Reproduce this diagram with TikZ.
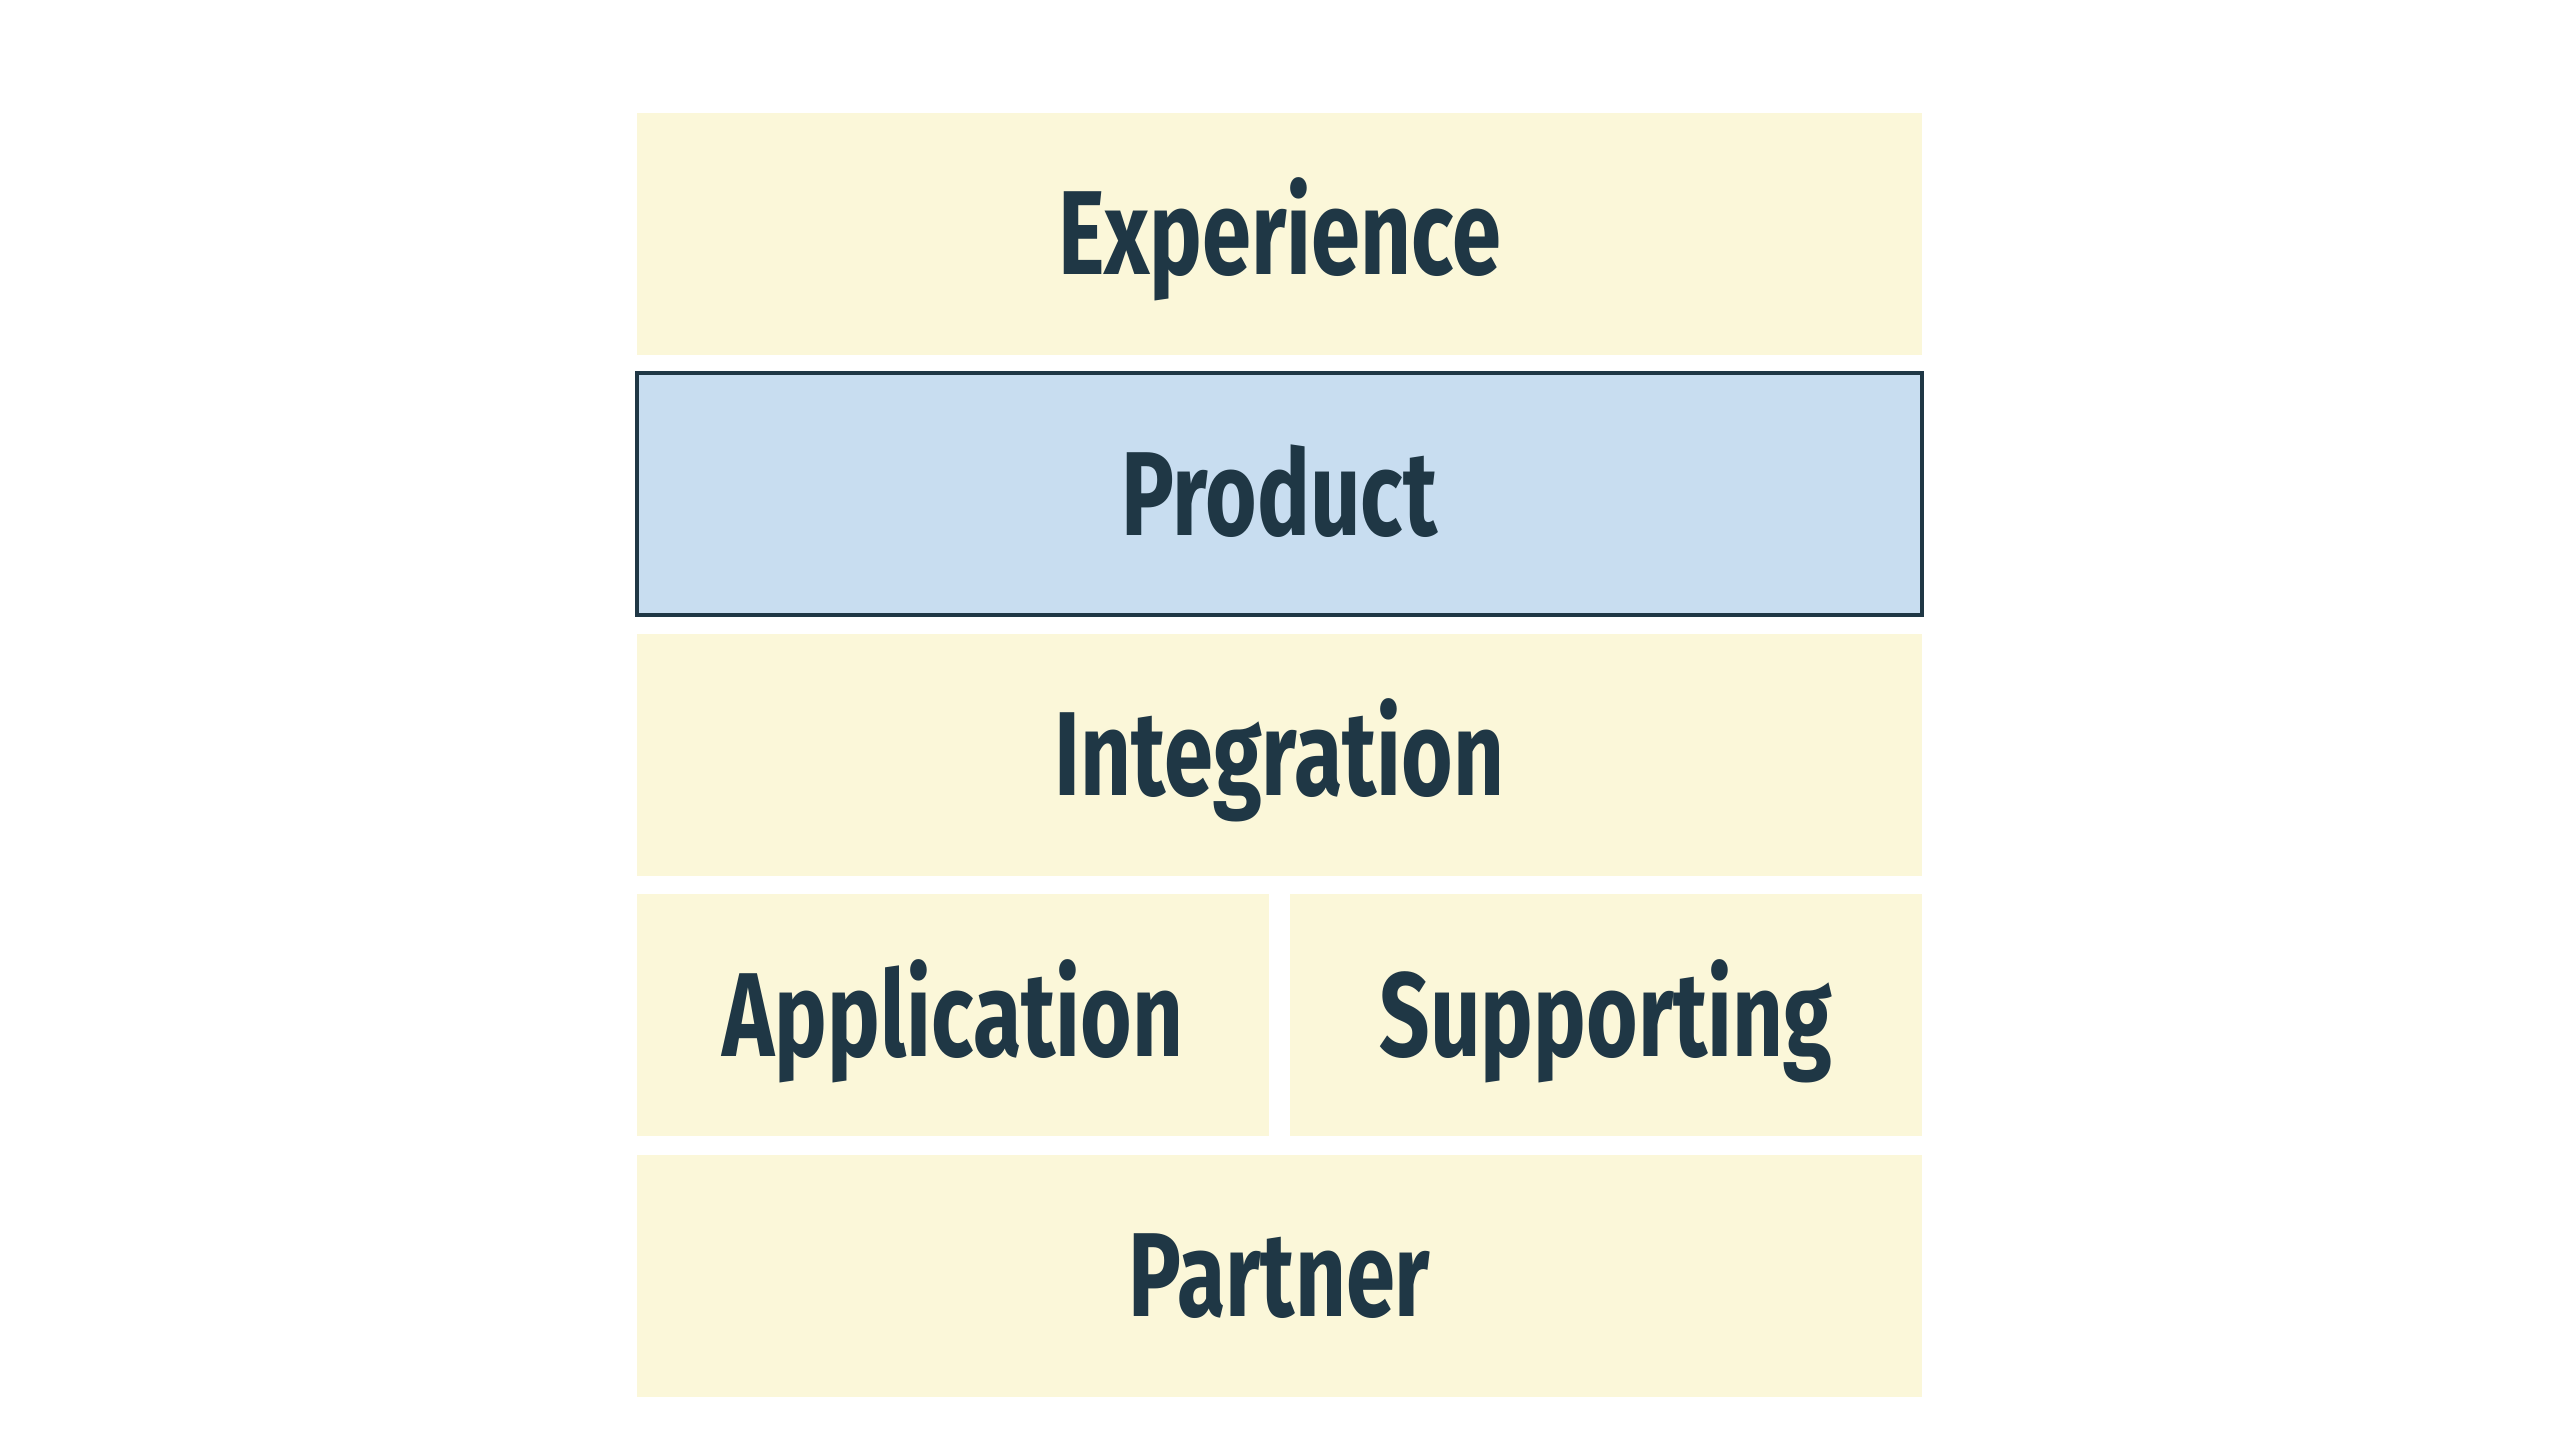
\documentclass[tikz,border=0pt]{standalone}
\usepackage{fontspec}
\setmainfont[FakeStretch=0.74]{Fira Sans}
\usetikzlibrary{positioning}
\definecolor{layerfill}{HTML}{FBF7D9}
\definecolor{corefill}{HTML}{C8DDF0}
\definecolor{inkdark}{HTML}{1F3745}
\tikzset{
  layer/.style={fill=layerfill,text=inkdark,minimum width=12.85cm,minimum height=2.42cm,
    inner sep=0pt,outer sep=0pt,text height=23.4pt,text depth=0pt,
    font=\fontsize{34}{40}\selectfont\bfseries},
  core/.style={layer,fill=corefill,draw=inkdark,line width=0.9pt},
  half/.style={layer,minimum width=6.32cm}
}
\begin{document}
\begin{tikzpicture}[node distance=0.185cm]
  \useasboundingbox (0,0) rectangle (25.6,-14.4); % page size
  \node[layer] (experience) at (12.795,-2.335) {Experience};
  \node[core,below=of experience] (product) {Product};
  \node[layer,below=of product] (integration) {Integration};
  % the split row
  \node[half,below right=0.185cm and 0cm of integration.south west] (application) {Application};
  \node[half,below left=0.185cm and 0cm of integration.south east] (supporting) {Supporting};
  \node[layer,below right=0.185cm and 0cm of application.south west] (partner) {Partner};
\end{tikzpicture}
\end{document}
